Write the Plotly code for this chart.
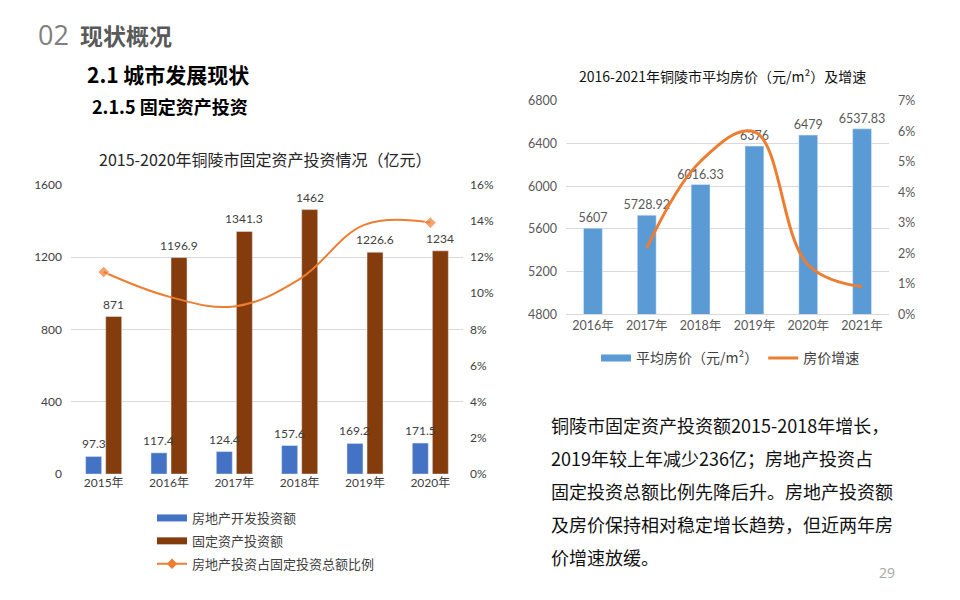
import plotly.graph_objects as go

# left chart: fixed asset investment 2015-2020 (亿元)
years_l = ["2015年", "2016年", "2017年", "2018年", "2019年", "2020年"]
real_estate = [97.3, 117.4, 124.4, 157.6, 169.2, 171.5]
fixed_asset = [871, 1196.9, 1341.3, 1462, 1226.6, 1234]
share = [0.1117, 0.0981, 0.0927, 0.1078, 0.1379, 0.1390]

# right chart: average house price 2016-2021
years_r = ["2016年", "2017年", "2018年", "2019年", "2020年", "2021年"]
price = [5607, 5728.92, 6016.33, 6376, 6479, 6537.83]
price_growth = [None, 0.0217, 0.0502, 0.0598, 0.0162, 0.0091]

body_lines = [
    "铜陵市固定资产投资额2015-2018年增长，",
    "2019年较上年减少236亿；房地产投资占",
    "固定投资总额比例先降后升。房地产投资额",
    "及房价保持相对稳定增长趋势，但近两年房",
    "价增速放缓。",
]

W, H = 960, 600
# the page renders offset a little (body margin etc.), so map target pixels back
def px(x): return (x - 8) / W
def py(y): return 1 - ((y - 14) / 0.977) / H

NUM = "Lato, Noto Sans CJK SC, sans-serif"
CJK = "Noto Sans CJK SC, sans-serif"
BLUE, BROWN, ORANGE, LBLUE = "#4472C4", "#843C0C", "#ED7D31", "#5B9BD5"
BW, OFF_B, OFF_F = 0.245, -0.276, 0.031

fig = go.Figure()
fig.add_trace(go.Bar(x=years_l, y=fixed_asset, marker_color=BROWN, showlegend=False,
    width=BW, offset=OFF_F, xaxis="x", yaxis="y"))
fig.add_trace(go.Bar(x=years_l, y=real_estate, marker_color=BLUE, showlegend=False,
    width=BW, offset=OFF_B, xaxis="x", yaxis="y"))
fig.add_trace(go.Scatter(x=years_l, y=share, mode="lines+markers", showlegend=False,
    line=dict(color=ORANGE, width=2, shape="spline", smoothing=1.1),
    marker=dict(symbol="diamond", size=[9, 0, 0, 0, 0, 9], color=ORANGE),
    xaxis="x", yaxis="y2"))

fig.add_trace(go.Bar(x=years_r, y=price, marker_color=LBLUE, showlegend=False,
    width=0.35, offset=-0.175, text=[f"{v:g}" for v in price], textposition="outside",
    constraintext="none", textfont=dict(size=12.5, color="#595959", family=NUM), cliponaxis=False,
    xaxis="x3", yaxis="y3"))
fig.add_trace(go.Scatter(x=years_r, y=price_growth, mode="lines", showlegend=False,
    line=dict(color=ORANGE, width=3, shape="spline", smoothing=1.1),
    xaxis="x3", yaxis="y4"))

# legend entries (wide swatches like the office chart)
for name, col, grp in [("房地产开发投资额", BLUE, "a"), ("固定资产投资额", BROWN, "b")]:
    fig.add_trace(go.Scatter(x=[None], y=[None], mode="lines", name=name, line=dict(color=col, width=7),
                             legend="legend", legendgroup=grp, xaxis="x", yaxis="y"))
fig.add_trace(go.Scatter(x=[None], y=[None], mode="lines+markers", name="房地产投资占固定投资总额比例",
                         line=dict(color=ORANGE, width=2), marker=dict(symbol="diamond", size=8, color=ORANGE),
                         legend="legend", legendgroup="c", xaxis="x", yaxis="y2"))
fig.add_trace(go.Scatter(x=[None], y=[None], mode="lines", name="平均房价（元/m²）",
                         line=dict(color=LBLUE, width=7), legend="legend2", xaxis="x3", yaxis="y3"))
fig.add_trace(go.Scatter(x=[None], y=[None], mode="lines", name="房价增速",
                         line=dict(color=ORANGE, width=3), legend="legend2", xaxis="x3", yaxis="y4"))

# value labels for the left chart as annotations so they sit above every bar
for i in range(len(years_l)):
    for val, off in ((real_estate[i], OFF_B), (fixed_asset[i], OFF_F)):
        fig.add_annotation(x=i + off + BW / 2, y=val, xref="x", yref="y", text=f"{val:g}",
                           showarrow=False, yanchor="bottom", yshift=3,
                           font=dict(size=12, color="#404040", family=NUM))

grid = "#D9D9D9"
fig.update_layout(
    width=W, height=H, margin=dict(l=0, r=0, t=0, b=0),
    paper_bgcolor="white", plot_bgcolor="white",
    font=dict(family=CJK, color="#404040"),
    barmode="overlay",
    xaxis=dict(domain=[px(71), px(463)], anchor="y", showgrid=False, showline=False, ticks="",
               tickfont=dict(size=12, color="#404040", family=NUM)),
    yaxis=dict(domain=[py(473), py(183)], range=[0, 1600], dtick=400, gridcolor=grid, zeroline=False,
               tickfont=dict(size=12, color="#404040", family=NUM), ticklabelstandoff=8),
    yaxis2=dict(overlaying="y", side="right", range=[0, 0.16], dtick=0.02, tickformat=".0%",
                showgrid=False, zeroline=False, tickfont=dict(size=12, color="#404040", family=NUM),
                ticklabelstandoff=6),
    xaxis3=dict(domain=[px(566), px(889)], anchor="y3", showgrid=False, showline=True, linecolor=grid,
                ticks="", tickfont=dict(size=12.5, color="#595959", family=NUM)),
    yaxis3=dict(domain=[py(313), py(99)], anchor="x3", range=[4800, 6800], dtick=400, gridcolor=grid,
                zeroline=False, tickfont=dict(size=12.5, color="#595959", family=NUM), ticklabelstandoff=8),
    yaxis4=dict(overlaying="y3", anchor="x3", side="right", range=[0, 0.07], dtick=0.01, tickformat=".0%",
                showgrid=False, zeroline=False, tickfont=dict(size=12.5, color="#595959", family=NUM),
                ticklabelstandoff=8),
    legend=dict(x=px(152), y=py(502), xanchor="left", yanchor="top", orientation="v",
                font=dict(size=13, color="#404040"), tracegroupgap=3, bgcolor="rgba(0,0,0,0)"),
    legend2=dict(x=px(596), y=py(357), xanchor="left", yanchor="middle", orientation="h",
                 font=dict(size=14, color="#404040"), bgcolor="rgba(0,0,0,0)"),
    showlegend=True,
)

ann = [
    dict(x=px(36), y=py(33), text="02", font=dict(size=27, color="#7F7F7F", family="Open Sans, sans-serif")),
    dict(x=px(78), y=py(33), text="<b>现状概况</b>", font=dict(size=23, color="#595959")),
    dict(x=px(85), y=py(72), text="<b>2.1 城市发展现状</b>", font=dict(size=21, color="#000000")),
    dict(x=px(90), y=py(104), text="<b>2.1.5 固定资产投资</b>", font=dict(size=18, color="#000000")),
    dict(x=px(265), y=py(157), text="2015-2020年铜陵市固定资产投资情况（亿元）", xanchor="center",
         font=dict(size=16, color="#262626")),
    dict(x=px(722), y=py(74), text="2016-2021年铜陵市平均房价（元/m²）及增速", xanchor="center",
         font=dict(size=14, color="#111111")),
    dict(x=px(877), y=py(572), text="29", font=dict(size=14, color="#A6A6A6", family="Open Sans, sans-serif")),
]
for i, line in enumerate(body_lines):
    ann.append(dict(x=px(549), y=py(424 + i * 33), text=line, font=dict(size=18, color="#111111")))
for a in ann:
    a.setdefault("xanchor", "left")
    fig.add_annotation(xref="paper", yref="paper", yanchor="middle", showarrow=False, **a)

fig.write_html("out.html")
